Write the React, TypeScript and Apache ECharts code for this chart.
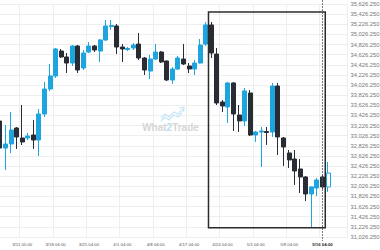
import React, { useEffect, useRef } from "react";
import * as echarts from "echarts";

const dates = [
  "3/6 05:00", "3/7 05:00", "3/8 05:00", "3/10 05:00", "3/11 05:00", "3/12 05:00", "3/13 05:00", "3/14 05:00", "3/15 05:00",
  "3/17 04:00", "3/18 04:00", "3/19 04:00", "3/20 04:00", "3/21 04:00", "3/22 04:00", "3/24 04:00", "3/25 04:00",
  "3/26 04:00", "3/27 04:00", "3/28 04:00", "3/29 04:00", "3/31 04:00", "4/1 04:00", "4/2 04:00", "4/3 04:00",
  "4/4 04:00", "4/5 04:00", "4/7 04:00", "4/8 04:00", "4/9 04:00", "4/10 04:00", "4/11 04:00", "4/12 04:00",
  "4/16 04:00", "4/17 04:00", "4/18 04:00", "4/19 04:00", "4/21 04:00", "4/22 04:00", "4/23 04:00", "4/24 04:00",
  "4/25 04:00", "4/26 04:00", "4/28 04:00", "4/29 04:00", "4/30 04:00", "5/1 04:00", "5/2 04:00", "5/3 04:00",
  "5/5 04:00", "5/6 04:00", "5/7 04:00", "5/8 04:00", "5/9 04:00", "5/10 04:00", "5/13 04:00", "5/14 04:00",
  "5/15 04:00", "5/16 04:00", "5/17 04:00", "5/19 04:00", "5/20 04:00", "5/21 04:00",
];

const opens = [
  33316, 32783, 32862, 33178, 32981, 32981, 33040, 32941, 33455, 33948,
  34205, 34698, 34580, 34461, 34797, 34363, 34678, 34797, 34698, 34916,
  35182, 35192, 34777, 34728, 34758, 34836, 34560, 34303, 34540, 34678,
  34501, 34126, 34343, 34540, 34402, 34343, 34461, 34836, 35212, 34639,
  33691, 33593, 34067, 33435, 33317, 33869, 33040, 33099, 33109, 33099,
  34007, 32981, 32685, 32566, 32369, 32211, 31875, 31994, 32211, 32014,
];
const closes = [
  32783, 32862, 33139, 33001, 32902, 33020, 32941, 33455, 33948, 34205,
  34738, 34580, 34461, 34797, 34323, 34659, 34797, 34718, 34916, 35192,
  35202, 34777, 34738, 34748, 34817, 34560, 34323, 34540, 34678, 34481,
  34126, 34343, 34560, 34442, 34343, 34461, 34817, 35212, 34659, 33672,
  33613, 34067, 33455, 33317, 33909, 33040, 33099, 33119, 33089, 34007,
  33001, 32803, 32547, 32330, 32211, 31875, 32014, 32152, 32014, 32290,
];
const lows = [
  32705, 32349, 32685, 32764, 32843, 32941, 32764, 32626, 33395, 33909,
  34165, 34560, 34264, 34402, 34264, 34323, 34659, 34678, 34481, 34896,
  35113, 34639, 34481, 34698, 34718, 34521, 34225, 34146, 34521, 34461,
  34106, 34047, 34323, 34422, 34264, 34225, 34452, 34797, 34560, 33632,
  33494, 33277, 33119, 33099, 33218, 33020, 32902, 32408, 32843, 33001,
  32645, 32428, 32389, 32053, 31895, 31737, 31224, 31836, 31974, 31915,
];
const highs = [
  33376, 33237, 33494, 33198, 33632, 33080, 33336, 33553, 34086, 34442,
  34758, 34738, 34659, 34817, 34817, 34718, 34876, 34817, 34935, 35310,
  35310, 35231, 34836, 34777, 34856, 35054, 34580, 34619, 34836, 34698,
  34511, 34382, 34600, 34836, 34461, 34521, 34935, 35271, 35271, 34758,
  33731, 34086, 34086, 33632, 33968, 33928, 33119, 33198, 33198, 34067,
  34067, 33001, 32744, 32744, 32566, 32231, 32024, 32191, 32251, 32507,
];

// pattern box (category index range and price range)
const boxStart = 38;
const boxEnd = 58;
const boxTop = 35468;
const boxBottom = 31209;
const currentIndex = 58;
const formingIndex = 59;

// axis tick labels are x.x26.250 : offset from round hundreds
const OFFSET = 26.25;
const yMin = 31000;
const yMax = 35600;
const yStep = 200;

const BLUE = "#1ea4de";
const DARK = "#2a2c35";
const FONT = "Liberation Sans, Arial, sans-serif";

export default function App() {
  const ref = useRef<HTMLDivElement>(null);
  useEffect(() => {
    if (!ref.current) return;
    const chart = echarts.init(ref.current, null, { renderer: "svg" });
    const data = opens.map((o, i) => {
      const v = [o - OFFSET, closes[i] - OFFSET, lows[i] - OFFSET, highs[i] - OFFSET];
      if (i === formingIndex) {
        return { value: v, itemStyle: { color: "#ffffff", borderColor: BLUE } };
      }
      return v;
    });
    const showIdx = (idx: number) => idx % 6 === 4;
    chart.setOption({
      animation: false,
      grid: { left: -2.8, top: 4, width: 350.3, height: 233, containLabel: false, outerBoundsMode: "none" },
      xAxis: {
        type: "category",
        data: dates,
        boundaryGap: true,
        axisLine: { show: false },
        axisTick: { show: false },
        axisLabel: {
          interval: showIdx,
          fontSize: 4.3,
          color: "#555",
          margin: 5,
          fontFamily: FONT,
          formatter: (val: string, idx: number) => (idx === currentIndex ? `{b|${val}}` : val),
          rich: { b: { fontSize: 4.3, fontWeight: "bold", color: "#222", fontFamily: FONT } },
        },
        splitLine: { show: true, interval: showIdx, lineStyle: { color: "#eeeeee", width: 1 } },
      },
      yAxis: {
        type: "value",
        position: "right",
        min: yMin,
        max: yMax,
        interval: yStep,
        scale: true,
        axisLine: { show: false },
        axisTick: { show: false },
        axisLabel: {
          fontSize: 5.8,
          color: "#777",
          margin: 3,
          fontFamily: FONT,
          formatter: (v: number) =>
            (v + OFFSET).toLocaleString("en-US", { minimumFractionDigits: 3, maximumFractionDigits: 3 }),
        },
        splitLine: { lineStyle: { color: "#eeeeee", width: 1 } },
      },
      series: [
        {
          type: "candlestick",
          data,
          barWidth: 4.5,
          itemStyle: { color: BLUE, color0: DARK, borderColor: BLUE, borderColor0: DARK, borderWidth: 1 },
        },
      ],
    });

    const p0 = chart.convertToPixel({ xAxisIndex: 0, yAxisIndex: 0 }, [boxStart, boxTop - OFFSET]) as number[];
    const p1 = chart.convertToPixel({ xAxisIndex: 0, yAxisIndex: 0 }, [boxEnd, boxBottom - OFFSET]) as number[];
    const pc = chart.convertToPixel({ xAxisIndex: 0, yAxisIndex: 0 }, [currentIndex, yMin]) as number[];
    const band = (p1[0] - p0[0]) / (boxEnd - boxStart);
    const x0 = p0[0] - band / 2;
    const x1 = p1[0] + band / 2;

    chart.setOption({
      graphic: [
        {
          type: "rect",
          silent: true,
          z: 10,
          shape: { x: x0, y: p0[1], width: x1 - x0, height: p1[1] - p0[1] },
          style: { fill: "none", stroke: "#2b2b2b", lineWidth: 1.5 },
        },
        {
          type: "line",
          silent: true,
          z: 11,
          shape: { x1: pc[0], y1: 0, x2: pc[0], y2: pc[1] + 4 },
          style: { stroke: "#555", lineWidth: 0.8, lineDash: [2, 1] },
        },
        {
          type: "group",
          silent: true,
          z: 0,
          children: [
            {
              type: "polyline",
              shape: { points: [[161, 118], [165, 114], [169, 117], [174, 112], [178, 114], [183, 109]] },
              style: { stroke: "#c6e6f5", lineWidth: 1.2, fill: "none" },
            },
            {
              type: "polyline",
              shape: { points: [[161, 121], [165, 117], [169, 120], [174, 115], [178, 117], [182, 113]] },
              style: { stroke: "#c6e6f5", lineWidth: 1.2, fill: "none" },
            },
            {
              type: "polyline",
              shape: { points: [[179, 108], [184, 107.5], [183.5, 112]] },
              style: { stroke: "#c6e6f5", lineWidth: 1.2, fill: "none" },
            },
            {
              type: "text",
              x: 170.5,
              y: 127,
              style: {
                text: "{a|What}{b|2}{a|Trade}",
                align: "center",
                verticalAlign: "middle",
                rich: {
                  a: { fontSize: 10, fontWeight: "bold", fill: "#d6d6d6", fontFamily: FONT },
                  b: { fontSize: 10, fontWeight: "bold", fill: "#b9dff1", fontFamily: FONT },
                },
              },
            },
          ],
        },
      ],
    });
    return () => chart.dispose();
  }, []);
  return (
    <div
      ref={ref}
      style={{ position: "fixed", left: 0, top: 0, width: 380, height: 250, background: "#fff" }}
    />
  );
}
